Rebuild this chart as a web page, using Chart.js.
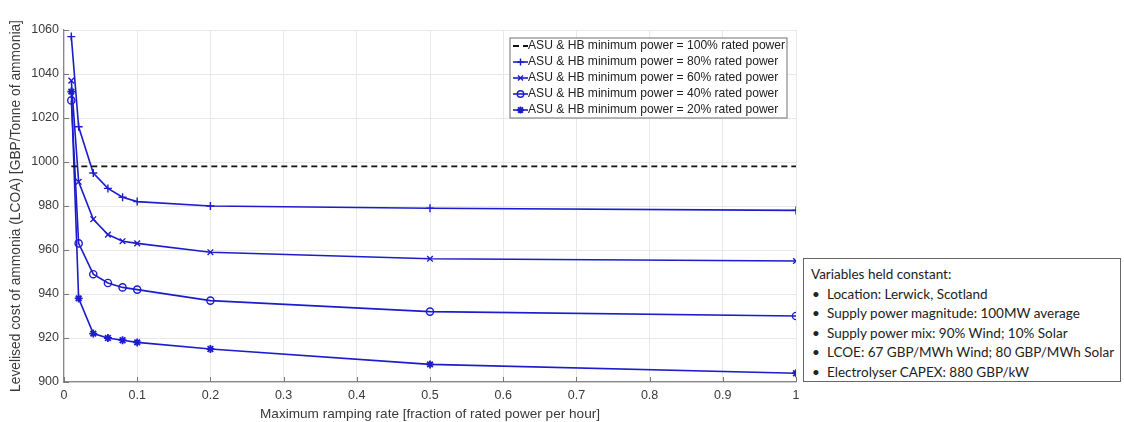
<!DOCTYPE html>
<html>
<head>
<meta charset="utf-8">
<script src="https://cdn.jsdelivr.net/npm/chart.js@4.4.1/dist/chart.umd.min.js"></script>
<style>
  body { margin: 0; background: #fff; }
  #wrap { position: relative; width: 1124px; height: 422px; }
  #note {
    position: absolute; left: 803px; top: 258px; width: 318px; height: 124px;
    border: 1.5px solid #666; box-sizing: border-box; background: #fff;
    font-family: Lato, "Open Sans", sans-serif; font-size: 13.5px; color: #222;
    padding: 6px 0 0 7px; line-height: 19.5px;
  }
  #note ul { margin: 0; padding: 0; list-style: none; }
  #note li { position: relative; padding-left: 16px; }
  #note li:before { content: "\2022"; position: absolute; left: 1px; }
</style>
</head>
<body>
<div id="wrap">
  <canvas id="c" width="1124" height="422"></canvas>
  <div id="note">
    Variables held constant:
    <ul>
      <li>Location: Lerwick, Scotland</li>
      <li>Supply power magnitude: 100MW average</li>
      <li>Supply power mix: 90% Wind; 10% Solar</li>
      <li>LCOE: 67 GBP/MWh Wind; 80 GBP/MWh Solar</li>
      <li>Electrolyser CAPEX: 880 GBP/kW</li>
    </ul>
  </div>
</div>
<script>
// ramp rates (fraction of rated power per hour)
const rampRates = [0.01, 0.02, 0.04, 0.06, 0.08, 0.1, 0.2, 0.5, 1.0];
// LCOA values, GBP/tonne
const min100 = [998, 998, 998, 998, 998, 998, 998, 998, 998];
const min80 = [1057, 1016, 995, 988, 984, 982, 980, 979, 978];
const min60 = [1037, 991, 974, 967, 964, 963, 959, 956, 955];
const min40 = [1028, 963, 949, 945, 943, 942, 937, 932, 930];
const min20 = [1032, 938, 922, 920, 919, 918, 915, 908, 904];
const seriesLabels = [
  'ASU & HB minimum power = 100% rated power',
  'ASU & HB minimum power = 80% rated power',
  'ASU & HB minimum power = 60% rated power',
  'ASU & HB minimum power = 40% rated power',
  'ASU & HB minimum power = 20% rated power'
];
const xTicks = [0, 0.1, 0.2, 0.3, 0.4, 0.5, 0.6, 0.7, 0.8, 0.9, 1];
const yTicks = [900, 920, 940, 960, 980, 1000, 1020, 1040, 1060];

const blue = 'rgb(28,28,205)';
const txt = '#3a3a3a';
const fam = '"Liberation Sans", Arial, sans-serif';

function pts(ys) {
  return rampRates.map((x, i) => ({ x: x, y: ys[i] }));
}

function series(label, ys, style) {
  return {
    label: label,
    data: pts(ys),
    borderColor: blue,
    backgroundColor: style === 'circle' ? 'rgba(0,0,0,0)' : blue,
    borderWidth: 1.6,
    pointStyle: style,
    pointRadius: style === 'circle' ? 3.6 : 4,
    pointBorderWidth: style === 'star' ? 1.8 : 1.4,
    pointBorderColor: blue,
    tension: 0
  };
}

const datasets = [
  {
    label: seriesLabels[0],
    data: pts(min100),
    borderColor: '#111',
    borderWidth: 1.8,
    borderDash: [6, 4],
    pointRadius: 0,
    pointStyle: false
  },
  series(seriesLabels[1], min80, 'cross'),
  series(seriesLabels[2], min60, 'crossRot'),
  series(seriesLabels[3], min40, 'circle'),
  series(seriesLabels[4], min20, 'star')
];

// legend box inside the plot, MATLAB style
const boxLegend = {
  id: 'boxLegend',
  afterDraw(chart) {
    const ctx = chart.ctx;
    const x0 = 510, y0 = 38, w = 277, h = 80;
    ctx.save();
    ctx.fillStyle = '#fff';
    ctx.fillRect(x0, y0, w, h);
    ctx.strokeStyle = '#888';
    ctx.lineWidth = 1.2;
    ctx.strokeRect(x0, y0, w, h);
    ctx.font = '12.1px ' + fam;
    ctx.textBaseline = 'middle';
    chart.data.datasets.forEach((ds, i) => {
      const y = y0 + 8 + i * 16;
      ctx.strokeStyle = ds.borderColor;
      ctx.lineWidth = ds.borderWidth;
      ctx.setLineDash(ds.borderDash || []);
      ctx.beginPath();
      ctx.moveTo(x0 + 3, y);
      ctx.lineTo(x0 + 18, y);
      ctx.stroke();
      ctx.setLineDash([]);
      if (ds.pointStyle) {
        ctx.fillStyle = ds.backgroundColor;
        ctx.strokeStyle = ds.pointBorderColor;
        ctx.lineWidth = ds.pointBorderWidth;
        Chart.helpers.drawPoint(ctx, { pointStyle: ds.pointStyle, radius: ds.pointRadius - 0.4, rotation: 0, borderWidth: ds.pointBorderWidth }, x0 + 10.5, y);
      }
      ctx.fillStyle = '#222';
      ctx.fillText(ds.label, x0 + 18, y);
    });
    ctx.restore();
  }
};

// small inward tick marks like MATLAB
const inTicks = {
  id: 'inTicks',
  afterDraw(chart) {
    const ctx = chart.ctx, a = chart.chartArea;
    const sx = chart.scales.x, sy = chart.scales.y;
    ctx.save();
    ctx.strokeStyle = '#777';
    ctx.lineWidth = 1;
    ctx.beginPath();
    xTicks.forEach(v => {
      const px = Math.round(sx.getPixelForValue(v)) + 0.5;
      ctx.moveTo(px, a.bottom);
      ctx.lineTo(px, a.bottom - 5);
    });
    yTicks.forEach(v => {
      const py = Math.round(sy.getPixelForValue(v)) + 0.5;
      ctx.moveTo(a.left, py);
      ctx.lineTo(a.left + 5, py);
    });
    ctx.stroke();
    ctx.restore();
  }
};

new Chart(document.getElementById('c'), {
  type: 'line',
  data: { datasets: datasets },
  options: {
    responsive: false,
    animation: false,
    layout: { padding: { top: 30, right: 328, left: 8, bottom: 0 } },
    plugins: { legend: { display: false }, tooltip: { enabled: false } },
    scales: {
      x: {
        type: 'linear',
        min: 0, max: 1,
        afterBuildTicks: s => { s.ticks = xTicks.map(v => ({ value: v })); },
        afterFit: s => { s.height = 40; },
        grid: { color: '#e8e8e8', drawTicks: false },
        border: { color: '#888', width: 1.2 },
        ticks: {
          color: txt, font: { family: fam, size: 12.5 }, padding: 6, maxRotation: 0,
          callback: v => String(Math.round(v * 10) / 10)
        },
        title: {
          display: true,
          text: 'Maximum ramping rate [fraction of rated power per hour]',
          color: txt,
          font: { family: fam, size: 13.6 },
          padding: { top: 0, bottom: 0 }
        }
      },
      y: {
        min: 900, max: 1060,
        afterBuildTicks: s => { s.ticks = yTicks.map(v => ({ value: v })); },
        afterFit: s => { s.width = 56; },
        grid: { color: '#e8e8e8', drawTicks: false },
        border: { color: '#888', width: 1.2 },
        ticks: {
          color: txt, font: { family: fam, size: 12.5 }, padding: 5,
          callback: v => String(v)
        },
        title: {
          display: true,
          text: 'Levelised cost of ammonia (LCOA) [GBP/Tonne of ammonia]',
          color: txt,
          font: { family: fam, size: 13.8 },
          padding: { top: 0, bottom: 0 }
        }
      }
    }
  },
  plugins: [inTicks, boxLegend]
});
</script>
</body>
</html>
